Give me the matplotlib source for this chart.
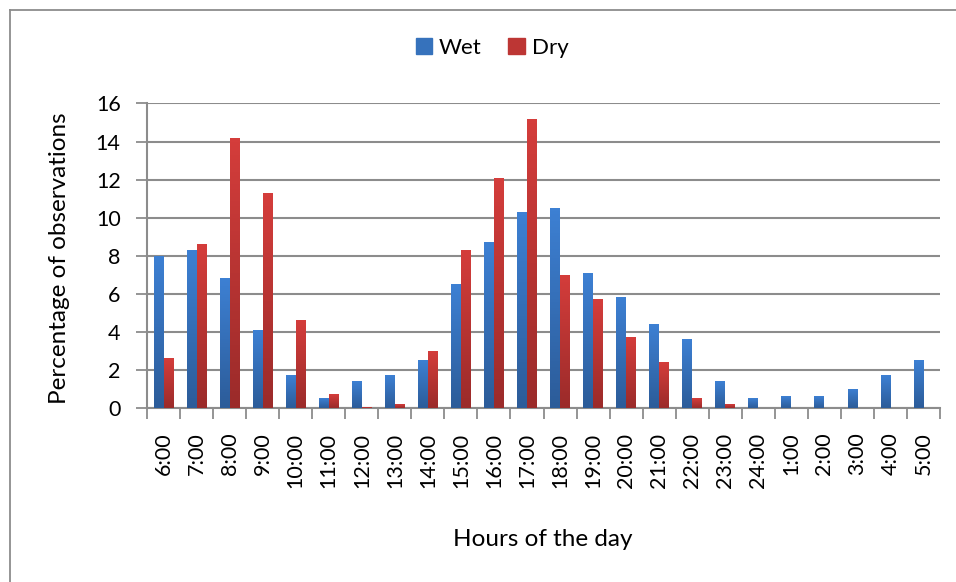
import matplotlib
matplotlib.use('Agg')
import matplotlib.pyplot as plt
import numpy as np
from matplotlib.lines import Line2D
from matplotlib.colors import LinearSegmentedColormap

# data
hours = ['6:00', '7:00', '8:00', '9:00', '10:00', '11:00', '12:00', '13:00',
         '14:00', '15:00', '16:00', '17:00', '18:00', '19:00', '20:00', '21:00',
         '22:00', '23:00', '24:00', '1:00', '2:00', '3:00', '4:00', '5:00']
wet = [8.0, 8.3, 6.8, 4.1, 1.7, 0.5, 1.4, 1.7,
       2.5, 6.5, 8.7, 10.3, 10.5, 7.1, 5.8, 4.4,
       3.6, 1.4, 0.5, 0.6, 0.6, 1.0, 1.7, 2.5]
dry = [2.6, 8.6, 14.2, 11.3, 4.6, 0.7, 0.04, 0.2,
       3.0, 8.3, 12.1, 15.2, 7.0, 5.7, 3.7, 2.4,
       0.5, 0.2, 0, 0, 0, 0, 0, 0]
yticks = [0, 2, 4, 6, 8, 10, 12, 14, 16]

plt.rcParams['font.family'] = ['Lato', 'DejaVu Sans']

fig = plt.figure(figsize=(9.56, 5.82), dpi=100)
ax = fig.add_axes([0.1538, 0.2995, 0.8295, 0.5227])

# outer chart border (left and top visible)
fig.add_artist(Line2D([9.5/956, 9.5/956], [0, 1 - 10/582], transform=fig.transFigure,
                      color='#8c8c8c', lw=1.3))
fig.add_artist(Line2D([9.5/956, 1], [1 - 10/582, 1 - 10/582], transform=fig.transFigure,
                      color='#8c8c8c', lw=1.3))

x = np.arange(len(hours))
w = 0.3
blue_cm = LinearSegmentedColormap.from_list('b', ['#2c5c99', '#3d80d3'])
red_cm = LinearSegmentedColormap.from_list('r', ['#9b2b2a', '#d43d3b'])
grad = np.linspace(0, 1, 64).reshape(-1, 1)

def gradient_bars(xs, vals, cmap, label):
    bars = ax.bar(xs, vals, width=w, color=cmap(0.5), label=label, zorder=3)
    for b in bars:
        h = b.get_height()
        if h <= 0:
            continue
        im = ax.imshow(grad, cmap=cmap, origin='lower', aspect='auto',
                       extent=[b.get_x(), b.get_x() + b.get_width(), 0, h], zorder=3)
        im.set_clip_path(b)
        b.set_facecolor('none')
        b.set_edgecolor('none')
    return bars

gradient_bars(x - w / 2, wet, blue_cm, 'Wet')
gradient_bars(x + w / 2, dry, red_cm, 'Dry')

ax.set_xlim(-0.5, len(hours) - 0.5)
ax.set_ylim(0, 16)
ax.set_yticks(yticks)
ax.yaxis.grid(True, color='#8c8c8c', lw=1.5, zorder=1)
ax.set_xticks(x)
ax.set_xticklabels(hours, rotation=90, fontsize=15.5)
ax.tick_params(axis='x', length=0, pad=18)
ax.set_xticks(np.arange(-0.5, len(hours)), minor=True)
ax.tick_params(axis='x', which='minor', length=8, width=1.3, color='#8c8c8c')
ax.tick_params(axis='y', length=8, width=1.3, color='#8c8c8c', labelsize=15.5, pad=11)
for lab in ax.get_xticklabels():
    lab.set_verticalalignment('top')

for s in ['top', 'right']:
    ax.spines[s].set_visible(False)
for s in ['left', 'bottom']:
    ax.spines[s].set_color('#8c8c8c')
    ax.spines[s].set_linewidth(1.5)

fig.text(60/956, 1 - 258/582, 'Percentage of observations', fontsize=17.5,
         rotation=90, ha='center', va='center')
fig.text(543/956, 1 - 539/582, 'Hours of the day', fontsize=17.5, ha='center', va='center')

handles = [plt.Rectangle((0, 0), 1, 1, color=blue_cm(0.6)),
           plt.Rectangle((0, 0), 1, 1, color=red_cm(0.6))]
fig.legend(handles, ['Wet', 'Dry'], loc='center', bbox_to_anchor=(492/956, 1 - 48/582),
           ncol=2, frameon=False, fontsize=16, handlelength=0.75, handleheight=0.75,
           handletextpad=0.3, columnspacing=1.2)

fig.savefig('out.png', dpi=100)
